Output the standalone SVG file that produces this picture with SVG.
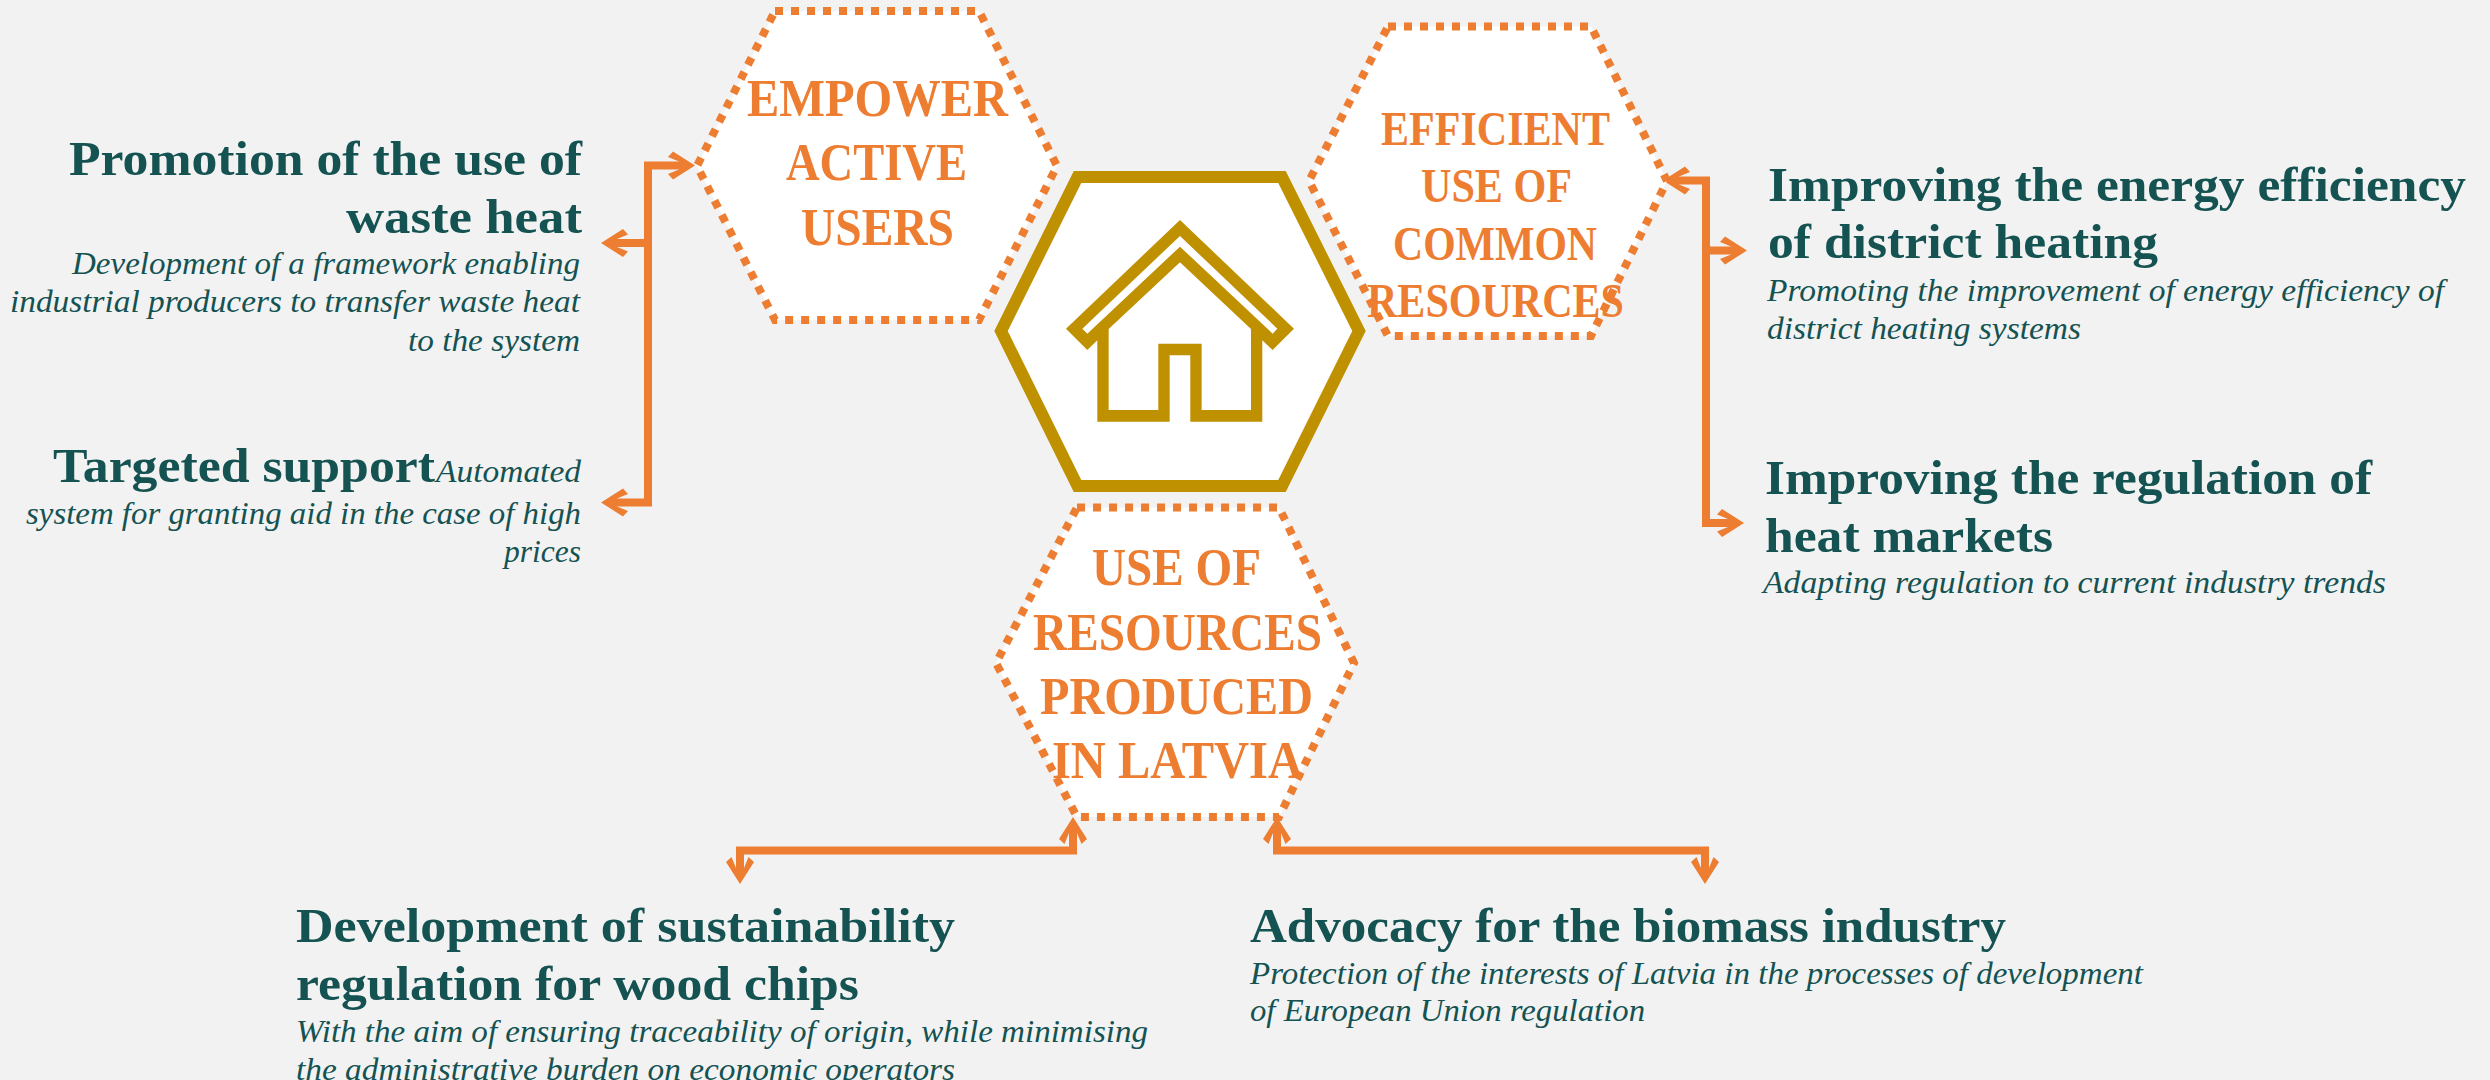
<svg xmlns="http://www.w3.org/2000/svg" width="2490" height="1080" viewBox="0 0 2490 1080">
<style>
.hx{fill:#fff;stroke:#ED7D31;stroke-width:8;stroke-dasharray:8 8}
.lb{font:bold 53px "Liberation Serif",serif;fill:#ED7D31}
.t{font:bold 48px "Liberation Serif",serif;fill:#155252}
.s{font:italic 32px "Liberation Serif",serif;fill:#155252}
.c{fill:none;stroke:#ED7D31;stroke-width:8;marker-start:url(#a);marker-end:url(#a)}
.b{fill:none;stroke:#ED7D31;stroke-width:8;marker-end:url(#a)}
</style>
<defs>
<marker id="a" markerUnits="userSpaceOnUse" markerWidth="40" markerHeight="40" viewBox="0 -20 40 40" refX="28" refY="0" orient="auto-start-reverse">
<polygon points="40,0 18,-14 13,-8.5 24,-4 24,4 13,8.5 18,14" fill="#ED7D31"/>
</marker>
</defs>
<rect width="2490" height="1080" fill="#F2F2F2"/>
<g id="connectors">
<path class="c" d="M683,165.500H648V502.500H613"/>
<path class="b" d="M648,243H613"/>
<path class="c" d="M1675,180.500H1706V523H1732"/>
<path class="b" d="M1706,250.500H1735"/>
<path class="c" d="M1073,829V850.500H740V872"/>
<path class="c" d="M1277,829V850.500H1705V872"/>
</g>
<g id="node-empower">
<polygon class="hx" points="775,11 979,11 1057,166 979,320 775,320 697,166"/>
<text class="lb" x="747" y="116" textLength="261" lengthAdjust="spacingAndGlyphs">EMPOWER</text>
<text class="lb" x="786" y="180" textLength="181" lengthAdjust="spacingAndGlyphs">ACTIVE</text>
<text class="lb" x="801" y="245" textLength="153" lengthAdjust="spacingAndGlyphs">USERS</text>
</g>
<g id="node-efficient">
<polygon class="hx" points="1388,26.500 1591,26.500 1667,181 1591,336 1388,336 1309,181"/>
<text class="lb" style="font-size:48px" x="1381" y="144.500" textLength="229" lengthAdjust="spacingAndGlyphs">EFFICIENT</text>
<text class="lb" style="font-size:48px" x="1421" y="202" textLength="151" lengthAdjust="spacingAndGlyphs">USE OF</text>
<text class="lb" style="font-size:48px" x="1393" y="260" textLength="204" lengthAdjust="spacingAndGlyphs">COMMON</text>
<text class="lb" style="font-size:48px" x="1367" y="317" textLength="257" lengthAdjust="spacingAndGlyphs">RESOURCES</text>
</g>
<g id="node-resources">
<polygon class="hx" points="1077,507.500 1279,507.500 1354,663 1279,817 1077,817 996,663"/>
<text class="lb" x="1092" y="585" textLength="169" lengthAdjust="spacingAndGlyphs">USE OF</text>
<text class="lb" x="1033" y="649.500" textLength="289" lengthAdjust="spacingAndGlyphs">RESOURCES</text>
<text class="lb" x="1040" y="714" textLength="273" lengthAdjust="spacingAndGlyphs">PRODUCED</text>
<text class="lb" x="1052" y="778" textLength="251" lengthAdjust="spacingAndGlyphs">IN LATVIA</text>
</g>
<g id="node-home">
<polygon points="1077.500,177 1282,177 1359,331 1282,486 1077.500,486 1001,331" fill="#fff" stroke="#BF9000" stroke-width="12"/>
<path transform="translate(980 160) scale(.3333)" fill="#BF9000" fill-rule="evenodd" d="M600,180L942,506L878,570L847,541V785H631V586H569V785H352V541L322,570L258,506ZM600,228L307,506L322,521L600,260L878,521L892,506ZM600,307L386,507V750H535V551H665V750H813V507Z"/>
</g>
<g id="node-waste-heat">
<text class="t" x="69" y="175" textLength="513" lengthAdjust="spacingAndGlyphs">Promotion of the use of</text>
<text class="t" x="346" y="233" textLength="236" lengthAdjust="spacingAndGlyphs">waste heat</text>
<text class="s" x="72" y="274" textLength="508" lengthAdjust="spacingAndGlyphs">Development of a framework enabling</text>
<text class="s" x="10" y="312" textLength="570" lengthAdjust="spacingAndGlyphs">industrial producers to transfer waste heat</text>
<text class="s" x="408" y="351" textLength="172" lengthAdjust="spacingAndGlyphs">to the system</text>
</g>
<g id="node-targeted">
<text class="t" x="53" y="482" textLength="382" lengthAdjust="spacingAndGlyphs">Targeted support</text>
<text class="s" x="436" y="482" textLength="145" lengthAdjust="spacingAndGlyphs">Automated</text>
<text class="s" x="26" y="524" textLength="555" lengthAdjust="spacingAndGlyphs">system for granting aid in the case of high</text>
<text class="s" x="504" y="562" textLength="77" lengthAdjust="spacingAndGlyphs">prices</text>
</g>
<g id="node-district">
<text class="t" x="1768" y="200.500" textLength="698" lengthAdjust="spacingAndGlyphs">Improving the energy efficiency</text>
<text class="t" x="1768" y="258" textLength="390" lengthAdjust="spacingAndGlyphs">of district heating</text>
<text class="s" x="1767" y="301" textLength="677" lengthAdjust="spacingAndGlyphs">Promoting the improvement of energy efficiency of</text>
<text class="s" x="1767" y="339" textLength="314" lengthAdjust="spacingAndGlyphs">district heating systems</text>
</g>
<g id="node-markets">
<text class="t" x="1765" y="494" textLength="607" lengthAdjust="spacingAndGlyphs">Improving the regulation of</text>
<text class="t" x="1765" y="551.500" textLength="288" lengthAdjust="spacingAndGlyphs">heat markets</text>
<text class="s" x="1763" y="593" textLength="623" lengthAdjust="spacingAndGlyphs">Adapting regulation to current industry trends</text>
</g>
<g id="node-chips">
<text class="t" x="296" y="942" textLength="659" lengthAdjust="spacingAndGlyphs">Development of sustainability</text>
<text class="t" x="296" y="1000" textLength="563" lengthAdjust="spacingAndGlyphs">regulation for wood chips</text>
<text class="s" x="296" y="1042" textLength="852" lengthAdjust="spacingAndGlyphs">With the aim of ensuring traceability of origin, while minimising</text>
<text class="s" x="296" y="1080" textLength="659" lengthAdjust="spacingAndGlyphs">the administrative burden on economic operators</text>
</g>
<g id="node-biomass">
<text class="t" x="1250" y="942" textLength="756" lengthAdjust="spacingAndGlyphs">Advocacy for the biomass industry</text>
<text class="s" x="1250" y="984" textLength="893" lengthAdjust="spacingAndGlyphs">Protection of the interests of Latvia in the processes of development</text>
<text class="s" x="1250" y="1021" textLength="395" lengthAdjust="spacingAndGlyphs">of European Union regulation</text>
</g>
</svg>
